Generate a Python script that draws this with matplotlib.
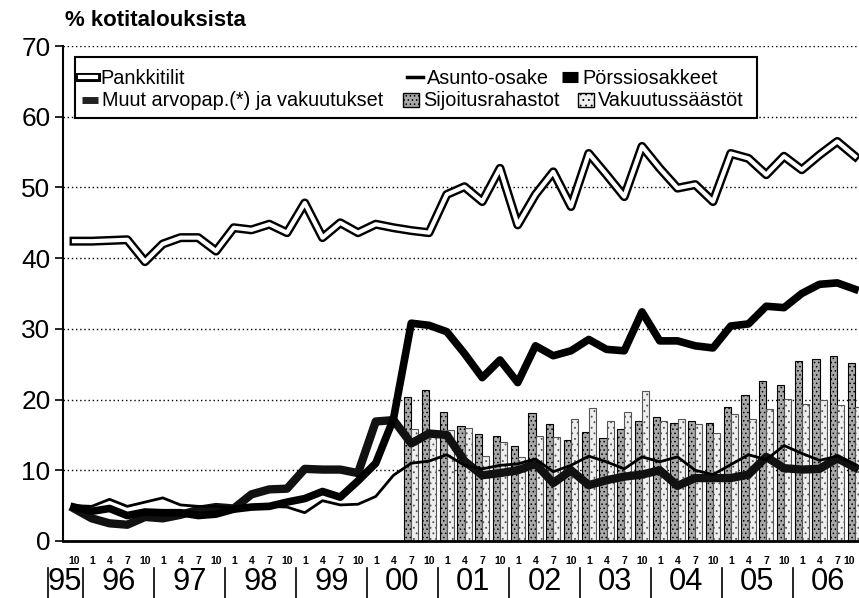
import numpy as np
import matplotlib
matplotlib.use("Agg")
import matplotlib.pyplot as plt
import matplotlib.patheffects as pe
from matplotlib import font_manager
from matplotlib.lines import Line2D
from matplotlib.patches import Patch, Rectangle
from matplotlib.transforms import blended_transform_factory

# Quarterly data, 1995 Q4 ... 2006 Q4 (45 quarters)
months = ["10"] + ["1", "4", "7", "10"] * 11
years = ["95", "96", "97", "98", "99", "00", "01", "02", "03", "04", "05", "06"]

pankkitilit = [42.4, 42.4, 42.5, 42.6, 39.5, 42.0, 42.9, 42.9, 41.0, 44.3,
               44.0, 44.8, 43.6, 47.8, 42.9, 45.0, 43.6, 44.8, 44.3, 43.9,
               43.6, 49.0, 50.1, 48.0, 52.7, 44.7, 49.0, 52.2, 47.3, 54.8,
               51.8, 48.7, 55.8, 52.7, 49.9, 50.4, 48.0, 54.8, 54.1, 51.8,
               54.4, 52.5, 54.6, 56.5, 54.4]
asunto = [5.0, 4.9, 5.9, 4.9, 5.5, 6.1, 5.1, 4.9, 4.9, 4.7,
          4.9, 4.9, 4.8, 4.0, 5.7, 5.1, 5.2, 6.3, 9.3, 11.0,
          11.3, 12.2, 10.7, 10.2, 10.7, 10.9, 11.6, 9.8, 10.7, 12.0,
          11.2, 10.2, 11.9, 11.2, 11.9, 10.0, 9.4, 10.8, 12.2, 11.5,
          13.5, 12.4, 11.4, 12.0, 10.8]
porssi = [4.8, 4.2, 4.6, 3.6, 4.1, 4.0, 4.0, 3.6, 3.8, 4.5,
          4.8, 4.9, 5.5, 6.0, 7.0, 6.2, 8.5, 11.0, 17.3, 30.8,
          30.5, 29.6, 26.5, 23.1, 25.6, 22.4, 27.6, 26.2, 26.9, 28.5,
          27.1, 26.9, 32.4, 28.3, 28.3, 27.6, 27.3, 30.4, 30.7, 33.2,
          33.0, 35.0, 36.3, 36.5, 35.6]
muut = [4.6, 3.2, 2.5, 2.3, 3.4, 3.2, 3.7, 4.4, 4.8, 4.6,
        6.6, 7.3, 7.4, 10.2, 10.1, 10.1, 9.6, 16.9, 17.1, 13.8,
        15.2, 15.0, 11.3, 9.3, 9.6, 10.0, 10.9, 8.2, 10.0, 7.9,
        8.6, 9.1, 9.4, 10.0, 7.8, 8.9, 8.9, 8.9, 9.4, 11.9,
        10.3, 10.1, 10.2, 11.7, 10.4]
# bars start at 2000 Q3
bar_start = 19
sijoitus = [20.3, 21.4, 18.2, 16.2, 15.1, 14.9, 13.5, 18.1, 16.5, 14.3,
            15.4, 14.6, 15.9, 17.0, 17.6, 16.7, 17.0, 16.7, 19.0, 20.7,
            22.6, 22.1, 25.4, 25.7, 26.2, 25.2]
vakuutus = [15.8, 15.6, 15.7, 16.0, 12.0, 14.0, 11.9, 14.9, 14.7, 17.3,
            18.8, 17.0, 18.2, 21.2, 17.0, 17.3, 16.6, 15.3, 18.0, 17.3,
            18.7, 20.1, 19.4, 19.9, 19.3, 19.0]

names = {f.name for f in font_manager.fontManager.ttflist}
if "Liberation Sans Narrow" in names:
    narrow = ["Liberation Sans Narrow", "DejaVu Sans"]
    k = 1.0
else:
    narrow = ["Liberation Sans", "DejaVu Sans"]
    k = 0.82
plain = ["Liberation Sans", "DejaVu Sans"]
plt.rcParams["font.family"] = narrow
plt.rcParams["hatch.linewidth"] = 0.6

W, H = 859, 598
fig = plt.figure(figsize=(W / 100, H / 100), dpi=100)
ax = fig.add_axes([63 / W, 1 - 541 / H, (W - 63) / W, (541 - 46) / H])

x = np.arange(len(months))
xb = x[bar_start:]

ax.bar(xb - 0.4, sijoitus, width=0.4, align="edge", facecolor="#a9a9a9",
       edgecolor="black", hatch="....", linewidth=0.8, zorder=2)
ax.bar(xb, vakuutus, width=0.4, align="edge", facecolor="#eeeeee",
       edgecolor="#555555", hatch="...", linewidth=0.8, zorder=2)

ax.plot(x, muut, color="#111111", lw=6, zorder=4)
ax.plot(x, porssi, color="black", lw=5.5, zorder=5)
ax.plot(x, asunto, color="black", lw=2, zorder=6)
pank_fx = [pe.Stroke(linewidth=6.5, foreground="black"), pe.Normal()]
ax.plot(x, pankkitilit, color="white", lw=3, zorder=7, path_effects=pank_fx)

ax.set_xlim(-0.62, (W - 74) / 17.75)
ax.set_ylim(0, 70)
ax.set_yticks(range(0, 71, 10))
ax.yaxis.grid(True, linestyle=(0, (1, 2)), color="black", lw=1)
ax.set_axisbelow(True)
ax.tick_params(axis="y", labelsize=23 * k, length=6, width=1.2, pad=3)
ax.set_xticks(x, months, fontsize=7.5, fontweight="bold", family=plain)
ax.get_xticklabels()[-1].set_ha("right")
ax.tick_params(axis="x", length=0, pad=11)
for s in ["top", "right"]:
    ax.spines[s].set_visible(False)
ax.spines["left"].set_linewidth(1.5)
ax.spines["bottom"].set_linewidth(2)

# year labels with separators under the axis
tr = blended_transform_factory(ax.transData, ax.transAxes)
centers = [-0.5] + [4 * j - 1.5 for j in range(1, len(years))]
for c, yr in zip(centers, years):
    ax.text(c, -0.083, yr, transform=tr, ha="center", va="center",
            fontsize=27 * k, clip_on=False)
seps = [-1.45] + [4 * j + 0.5 for j in range(len(years) - 1)]
for s in seps:
    ax.plot([s, s], [-0.055, -0.115], transform=tr, color="black",
            lw=1.2, clip_on=False)

fig.text(65 / W, 1 - 20 / H, "% kotitalouksista", ha="left", va="center",
         fontsize=16, fontweight="bold", family=plain)

# legend: frame plus one entry per series
fig.add_artist(Rectangle((75 / W, 1 - 118 / H), 682 / W, 61 / H,
                         transform=fig.transFigure, facecolor="white",
                         edgecolor="black", lw=1.5, zorder=4))
entries = [
    (Line2D([], [], color="white", lw=3, path_effects=pank_fx),
     "Pankkitilit", 80, 78),
    (Line2D([], [], color="black", lw=2.5), "Asunto-osake", 407, 78),
    (Line2D([], [], color="black", lw=8, solid_capstyle="butt"),
     "Pörssiosakkeet", 562, 78),
    (Line2D([], [], color="#222222", lw=5, solid_capstyle="butt"),
     "Muut arvopap.(*) ja vakuutukset", 82, 101),
    (Patch(facecolor="#a9a9a9", edgecolor="black", hatch="...."),
     "Sijoitusrahastot", 403, 101),
    (Patch(facecolor="#eeeeee", edgecolor="black", hatch="..."),
     "Vakuutussäästöt", 578, 101),
]
for h, lab, px, py in entries:
    fig.legend(handles=[h], labels=[lab], loc="center left",
               bbox_to_anchor=(px / W, 1 - py / H), frameon=False,
               borderpad=0, borderaxespad=0, handlelength=0.8,
               handletextpad=0.2, fontsize=17.5 * k)

fig.savefig("out.png", dpi=100)
